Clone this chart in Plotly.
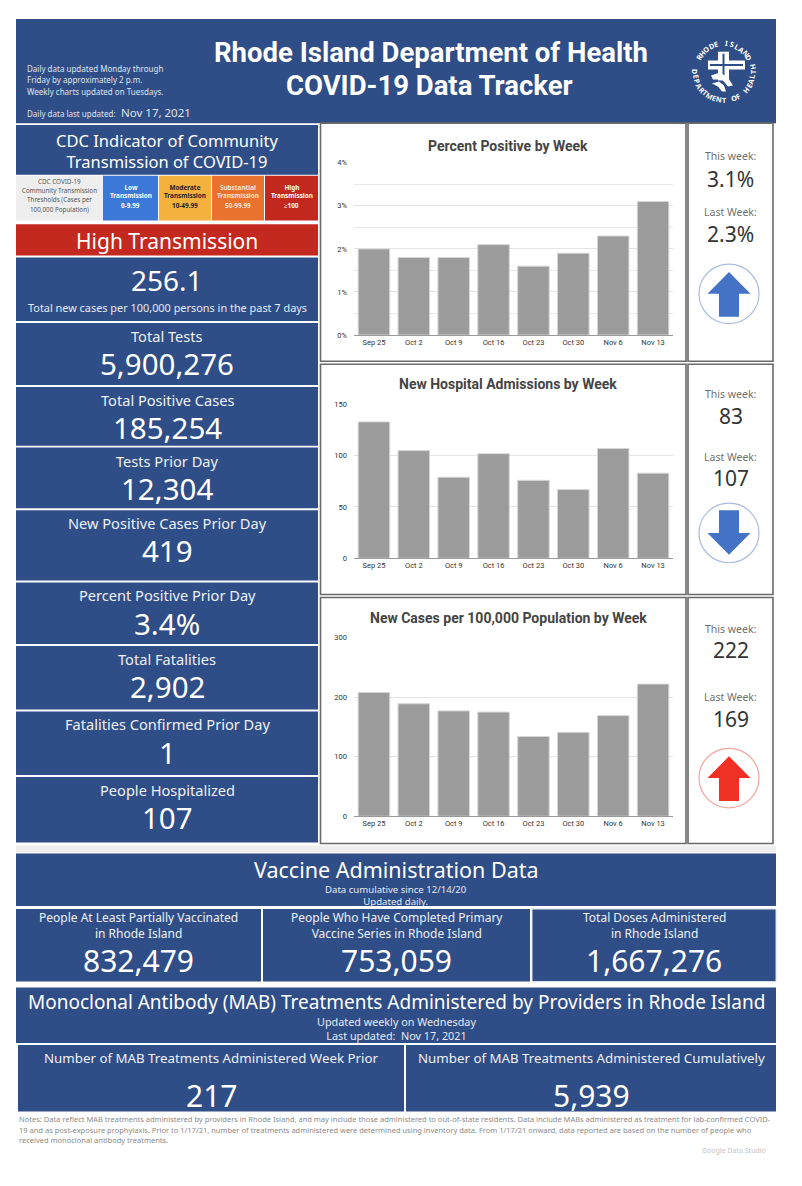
import math
import plotly.graph_objects as go

# ---- data ----
weeks = ["Sep 25", "Oct 2", "Oct 9", "Oct 16", "Oct 23", "Oct 30", "Nov 6", "Nov 13"]
pct_positive = [2.0, 1.8, 1.8, 2.1, 1.6, 1.9, 2.3, 3.1]
hosp_admissions = [133, 105, 79, 102, 76, 67, 107, 83]
cases_per_100k = [208, 189, 177, 175, 134, 141, 169, 222]

chart_titles = ["Percent Positive by Week", "New Hospital Admissions by Week",
                "New Cases per 100,000 Population by Week"]
this_week = ["3.1%", "83", "222"]
last_week = ["2.3%", "107", "169"]
trend = ["up", "down", "up"]

stat_labels = ["Total Tests", "Total Positive Cases", "Tests Prior Day",
               "New Positive Cases Prior Day", "Percent Positive Prior Day",
               "Total Fatalities", "Fatalities Confirmed Prior Day", "People Hospitalized"]
stat_values = ["5,900,276", "185,254", "12,304", "419", "3.4%", "2,902", "1", "107"]

case_rate = "256.1"
transmission_level = "High Transmission"
threshold_names = ["Low<br>Transmission", "Moderate<br>Transmission",
                   "Substantial<br>Transmission", "High<br>Transmission"]
threshold_ranges = ["0-9.99", "10-49.99", "50-99.99", "≥100"]

vaccine_labels = ["People At Least Partially Vaccinated<br>in Rhode Island",
                  "People Who Have Completed Primary<br>Vaccine Series in Rhode Island",
                  "Total Doses Administered<br>in Rhode Island"]
vaccine_values = ["832,479", "753,059", "1,667,276"]

mab_labels = ["Number of MAB Treatments Administered Week Prior",
              "Number of MAB Treatments Administered Cumulatively"]
mab_values = ["217", "5,939"]

updated = "Nov 17, 2021"

# ---- page geometry (browser body keeps its 8px margin) ----
OFF = 8
W, H = 786, 1170
BLUE = "#2f4d86"
FONT = "Noto Sans"


def X(x):
    return (x - OFF) / W


def Y(y):
    return 1 - (y - OFF) / H


fig = go.Figure()


def box(x0, y0, x1, y1, fill, line="rgba(0,0,0,0)", lw=0):
    fig.add_shape(type="rect", xref="paper", yref="paper", layer="below",
                  x0=X(x0), x1=X(x1), y0=Y(y1), y1=Y(y0),
                  fillcolor=fill, line=dict(color=line, width=lw))


def txt(x, y, s, size, color="white", family=FONT, anchor="center", angle=0):
    fig.add_annotation(x=X(x), y=Y(y), xref="paper", yref="paper", text=s,
                       showarrow=False, xanchor=anchor, yanchor="middle",
                       textangle=angle, font=dict(size=size, color=color, family=family))


def poly(pts, fill):
    path = "M " + " L ".join(f"{X(a):.5f},{Y(b):.5f}" for a, b in pts) + " Z"
    fig.add_shape(type="path", xref="paper", yref="paper", path=path,
                  fillcolor=fill, line=dict(width=0))


# ---- header ----
box(16, 15, 776, 120, BLUE)
for i, line in enumerate(["Daily data updated Monday through", "Friday by approximately 2 p.m.",
                          "Weekly charts updated on Tuesdays."]):
    txt(25, 65 + i * 11.5, line, 8, "#dfe5ef", anchor="left")
txt(25, 110, "Daily data last updated:", 8, "#dfe5ef", anchor="left")
txt(119, 109, updated, 11.5, "#dfe5ef", anchor="left")
txt(431, 48.5, "<b>Rhode Island Department of Health</b>", 27.5, family="Roboto")
txt(429, 82.5, "<b>COVID-19 Data Tracker</b>", 27.5, family="Roboto")

# logo: ring text + cross
lcx, lcy, lr = 724, 68, 28.5
for k, ch in enumerate("RHODE ISLAND"):
    a = 150 - k * 11
    txt(lcx + lr * math.cos(math.radians(a)), lcy - lr * math.sin(math.radians(a)),
        f"<b>{ch}</b>", 7.2, angle=90 - a)
for k, ch in enumerate("DEPARTMENT OF HEALTH"):
    a = 180 + k * 10
    txt(lcx + lr * math.cos(math.radians(a)), lcy - lr * math.sin(math.radians(a)),
        f"<b>{ch}</b>", 7.2, angle=270 - a)
box(708, 57, 745, 66, "white")
box(718, 48, 729, 77, "white")
box(710, 60.5, 743, 62.5, BLUE)
box(722.5, 50, 724.5, 75, BLUE)
poly([(711, 72), (720, 69), (728, 74), (733, 82), (728, 83), (722, 76), (713, 76)], "white")
poly([(712, 80), (719, 78), (724, 82), (726, 88), (722, 88), (718, 83)], "white")

# ---- left column ----
box(16, 122, 318, 172, BLUE)
txt(167, 148.5, "CDC Indicator of Community<br>Transmission of COVID-19", 16.5)

box(16, 173, 103, 218, "#eeeeee")
for i, line in enumerate(["CDC COVID-19", "Community Transmission",
                          "Thresholds (Cases per", "100,000 Population)"]):
    txt(59.5, 178.5 + i * 9.4, line, 6.3, "#555555")
cells = [(103, 158, "#3b78d8", "white"), (159, 211, "#f5b13e", "#222222"),
         (212, 264, "#e8722e", "#fbe3d4"), (265, 318, "#c2281e", "white")]
for (a, b, fill, col), nm, rg in zip(cells, threshold_names, threshold_ranges):
    box(a, 173, b, 218, fill)
    txt((a + b) / 2, 188.5, f"<b>{nm}</b>", 6.4, col)
    txt((a + b) / 2, 202.5, f"<b>{rg}</b>", 6.4, col)

box(16, 222, 318, 253.5, "#c4291f")
txt(167, 239, transmission_level, 21)

box(16, 255.5, 318, 319.5, BLUE)
txt(167, 278, case_rate, 28)
txt(167, 305.5, "Total new cases per 100,000 persons in the past 7 days", 10.9, "#e6ebf3")

stat_boxes = [(321.5, 384), (386, 445), (447, 508), (510, 581),
              (583, 645), (647, 711), (713, 777), (779, 845)]
for (a, b), lab, val in zip(stat_boxes, stat_labels, stat_values):
    box(16, a, 318, b, BLUE)
    txt(167, a + 13, lab, 14.6, "#eef1f6")
    txt(167, a + 41, val, 29.5)

# ---- chart panels ----
panels = [(120, 360), (363, 595), (598, 846)]
plot_rows = [(160, 333.5), (403.5, 558.5), (638.5, 818.5)]
title_rows = [143.5, 382.5, 618.5]
series = [pct_positive, hosp_admissions, cases_per_100k]
yranges = [[0, 4], [0, 150], [0, 300]]
ydticks = [1, 50, 100]
value_rows = [(153, 176, 210, 232, 292), (393, 415, 456, 478, 533),
              (629.5, 651, 698.5, 720, 780)]

for i in range(3):
    t0, t1 = panels[i]
    box(320.5, t0, 686, t1, "white", "#6a6a6a", 1.6)
    box(688, t0, 773, t1, "white", "#6a6a6a", 1.6)
    n = "" if i == 0 else str(i + 1)
    fig.add_trace(go.Bar(x=weeks, y=series[i], xaxis="x" + n, yaxis="y" + n,
                         marker=dict(color="#9b9b9b", line=dict(color="#d6d6d6", width=1)),
                         showlegend=False))
    p0, p1 = plot_rows[i]
    yax = dict(domain=[Y(p1), Y(p0)], anchor="x" + n, range=yranges[i], dtick=ydticks[i],
               showgrid=True, gridcolor="#e4e4e4", gridwidth=1, zeroline=False,
               ticklabelstandoff=6,
               tickfont=dict(size=7.5, color="#333333", family="Roboto"), fixedrange=True)
    if i == 0:
        yax["ticksuffix"] = "%"
        yax["minor"] = dict(dtick=0.5, showgrid=True, gridcolor="#e8e8e8")
    xax = dict(domain=[X(354), X(673)], anchor="y" + n, showgrid=False, showline=True,
               linecolor="#9a9a9a", linewidth=1.2, ticks="",
               tickfont=dict(size=7.5, color="#333333", family="Roboto"), fixedrange=True)
    fig.layout["yaxis" + n] = yax
    fig.layout["xaxis" + n] = xax
    txt(508, title_rows[i], f"<b>{chart_titles[i]}</b>", 14, "#444444", family="Roboto")

    # this week / last week + trend arrow
    a, b, c, d, cy = value_rows[i]
    txt(730.5, a, "This week:", 10.5, "#707070")
    txt(730.5, b, this_week[i], 21, "#333333")
    txt(730.5, c, "Last Week:", 10.5, "#707070")
    txt(730.5, d, last_week[i], 21, "#333333")
    cx = 729
    red = trend[i] == "up" and i == 2
    col = "#ee3124" if red else "#4472c4"
    ring = "#f3a3a0" if red else "#a9bbe0"
    fig.add_shape(type="circle", xref="paper", yref="paper", x0=X(cx - 30), x1=X(cx + 30),
                  y0=Y(cy + 30), y1=Y(cy - 30), line=dict(color=ring, width=1.2))
    u = 1 if trend[i] == "up" else -1
    poly([(cx, cy - u * 22), (cx + 21.5, cy), (cx + 10, cy), (cx + 10, cy + u * 23),
          (cx - 10, cy + u * 23), (cx - 10, cy), (cx - 21.5, cy)], col)

# ---- vaccine section ----
box(16, 848, 776, 855, "#eeeeee")
box(16, 856, 776, 909, BLUE)
txt(396, 872.5, "Vaccine Administration Data", 21.5)
txt(396, 898, "Data cumulative since 12/14/20<br>Updated daily.", 9.6, "#e6ebf3")
vac_cols = [(16, 261), (263, 530), (532, 776)]
for (a, b), lab, val in zip(vac_cols, vaccine_labels, vaccine_values):
    box(a, 912, b, 985, BLUE, "#d8dfeb" if b == 776 else "rgba(0,0,0,0)", 1 if b == 776 else 0)
    txt((a + b) / 2, 928.5, lab, 12, "#eef1f6")
    txt((a + b) / 2, 964, val, 30)

box(16, 991, 776, 1047, BLUE)
txt(396, 1005.5, "Monoclonal Antibody (MAB) Treatments Administered by Providers in Rhode Island", 19)
txt(396, 1032, "Updated weekly on Wednesday<br>Last updated:  " + updated, 10.8, "#e6ebf3")
mab_cols = [(18, 404), (406, 776)]
for (a, b), lab, val in zip(mab_cols, mab_labels, mab_values):
    box(a, 1049, b, 1116, BLUE)
    txt((a + b) / 2, 1062, lab, 13.3, "#eef1f6")
    txt((a + b) / 2, 1100, val, 30)

notes = ["Notes: Data reflect MAB treatments administered by providers in Rhode Island, and may include those administered to out-of-state residents. Data include MABs administered as treatment for lab-confirmed COVID-",
         "19 and as post-exposure prophylaxis. Prior to 1/17/21, number of treatments administered were determined using inventory data. From 1/17/21 onward, data reported are based on the number of people who",
         "received monoclonal antibody treatments."]
for i, line in enumerate(notes):
    txt(17, 1124 + i * 10.5, line, 7.5, "#8a8a8a", anchor="left")
txt(768, 1155, "Google Data Studio", 7, "#c4c4c4", anchor="right")

fig.update_layout(width=W, height=H, margin=dict(l=0, r=0, t=0, b=0),
                  paper_bgcolor="white", plot_bgcolor="rgba(0,0,0,0)",
                  bargap=0.21, font=dict(family=FONT))
fig.write_html("out.html")
